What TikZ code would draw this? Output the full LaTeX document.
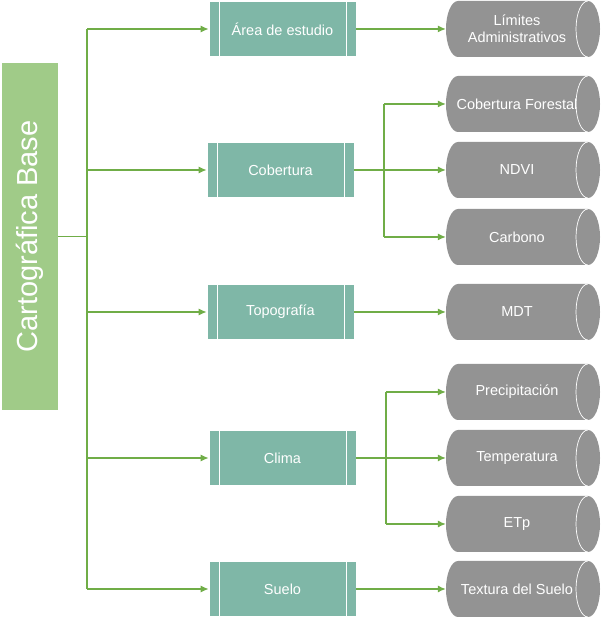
\documentclass[tikz,border=0pt]{standalone}
\usepackage{fontspec}
\setmainfont{Liberation Sans}
\usetikzlibrary{arrows.meta}
\definecolor{mainG}{HTML}{A0CB88}
\definecolor{procT}{HTML}{7FB7A7}
\definecolor{cylG}{HTML}{939393}
\definecolor{lineG}{HTML}{70AD47}
\newcommand\cylnode[4]{%
  \fill[cylG] (#2-65,#3+28) -- (#2+65,#3+28) arc[start angle=90,end angle=-90,x radius=12pt,y radius=28pt] -- (#2-65,#3-28) arc[start angle=270,end angle=90,x radius=12pt,y radius=28pt] -- cycle;
  \draw[white,line width=0.7pt] (#2+65,#3+28) arc[start angle=90,end angle=270,x radius=12pt,y radius=28pt];
  \node[cyltext] (#1) at (#2-6,#3) {#4};
}
\tikzset{
  mainbox/.style={fill=mainG, minimum width=56pt, minimum height=347pt, inner sep=0pt, text=white, font=\fontsize{29}{34}\selectfont},
  procbox/.style={fill=procT, draw=white, line width=0.8pt, minimum width=147pt, minimum height=55pt, inner sep=0pt, text=white, font=\fontsize{14.5}{17}\selectfont,
    path picture={\draw[white,line width=0.8pt] ([xshift=10pt]path picture bounding box.north west) -- ([xshift=10pt]path picture bounding box.south west) ([xshift=-10pt]path picture bounding box.north east) -- ([xshift=-10pt]path picture bounding box.south east);}},
  cyltext/.style={minimum width=142pt, minimum height=56pt, inner sep=0pt, text=white, align=center, font=\fontsize{14.5}{17}\selectfont},
  conn/.style={draw=lineG, line width=1.1pt},
  arr/.style={conn, -{Latex[length=8pt,width=7pt]}},
}
\begin{document}
\begin{tikzpicture}[x=1pt,y=1pt]
\useasboundingbox (0,0) rectangle (603,620);
\node[mainbox] (main) at (30,383.5) {\rotatebox{90}{Cartográfica Base}};
\node[procbox] (area) at (282.5,591) {Área de estudio};
\node[procbox] (cob) at (280.5,450) {Cobertura};
\node[procbox] (topo) at (280.5,308) {Topografía};
\node[procbox] (clima) at (282.5,162) {Clima};
\node[procbox] (suelo) at (282.5,31) {Suelo};
\cylnode{lim}{523}{591}{Límites\\Administrativos}
\cylnode{forest}{523}{516}{Cobertura Forestal}
\cylnode{ndvi}{523}{450}{NDVI}
\cylnode{carb}{523}{383}{Carbono}
\cylnode{mdt}{523}{308}{MDT}
\cylnode{prec}{523}{228}{Precipitación}
\cylnode{temp}{523}{162}{Temperatura}
\cylnode{etp}{523}{96}{ETp}
\cylnode{text}{523}{31}{Textura del Suelo}
\coordinate (trT) at (87,591);
\coordinate (trB) at (87,31);
\coordinate (b1) at (384,450);
\coordinate (b2) at (386,162);
\draw[conn] (trT) -- (trB);
\draw[conn] (main.east) -- (main.east -| trT);
\draw[arr] (trT) -- (area.west);
\draw[arr] (cob.west -| trT) -- (cob.west);
\draw[arr] (topo.west -| trT) -- (topo.west);
\draw[arr] (clima.west -| trT) -- (clima.west);
\draw[arr] (trB) -- (suelo.west);
\draw[arr] (area.east) -- (lim.west);
\draw[arr] (cob.east) -- (ndvi.west);
\draw[conn] (forest.west -| b1) -- (carb.west -| b1);
\draw[arr] (forest.west -| b1) -- (forest.west);
\draw[arr] (carb.west -| b1) -- (carb.west);
\draw[arr] (topo.east) -- (mdt.west);
\draw[arr] (clima.east) -- (temp.west);
\draw[conn] (prec.west -| b2) -- (etp.west -| b2);
\draw[arr] (prec.west -| b2) -- (prec.west);
\draw[arr] (etp.west -| b2) -- (etp.west);
\draw[arr] (suelo.east) -- (text.west);
\end{tikzpicture}
\end{document}
